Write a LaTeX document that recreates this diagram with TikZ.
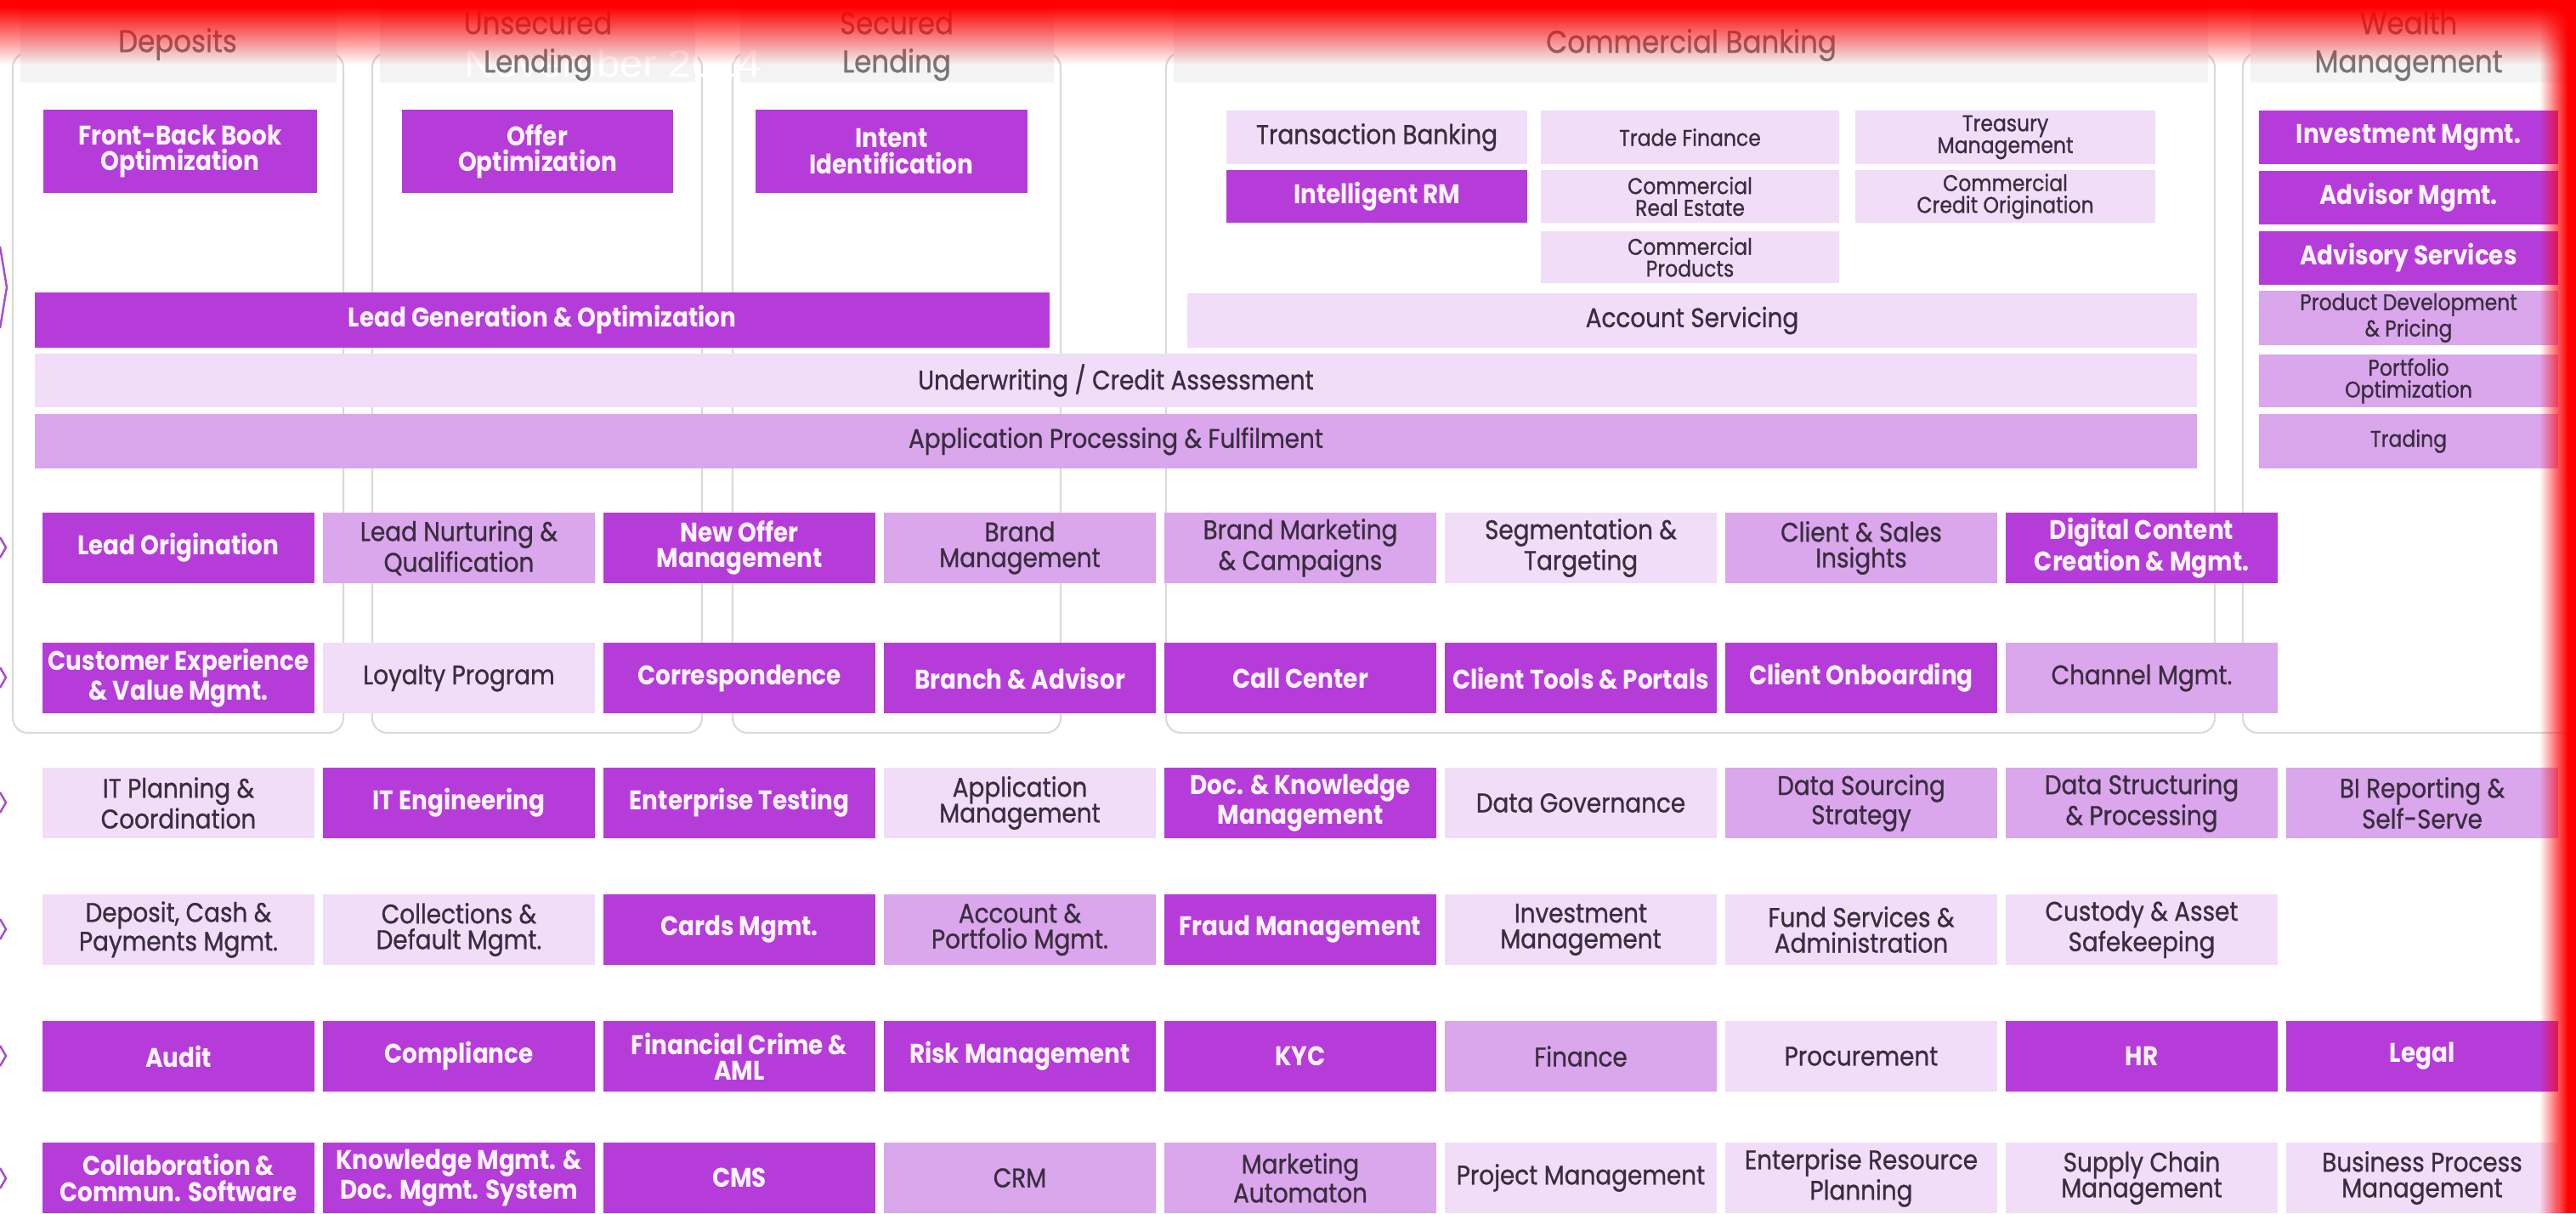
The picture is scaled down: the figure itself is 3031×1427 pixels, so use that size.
\documentclass[tikz,border=0pt]{standalone}
\usepackage{fontspec}
\setmainfont{Poppins}[FakeStretch=0.88]
\newfontfamily\medfont{Poppins}[FakeStretch=0.88, FakeBold=0.8]
\newfontfamily\wmfont{Liberation Sans}[FakeStretch=1.1]
\usetikzlibrary{fadings}

\definecolor{pD}{HTML}{B63CDA}
\definecolor{pM}{HTML}{DAA6EC}
\definecolor{pL}{HTML}{F1DDF7}
\definecolor{dtxt}{HTML}{3A2D3F}
\definecolor{wtxt}{HTML}{FFF4FF}
\definecolor{hdrtxt}{HTML}{777777}
\definecolor{panelln}{HTML}{DADADA}
\definecolor{bandgray}{HTML}{EDEDED}
\definecolor{chev}{HTML}{A64BD0}

\tikzfading[name=fadedown, top color=transparent!0, bottom color=transparent!100]
\tikzfading[name=faderight, left color=transparent!100, right color=transparent!0]

\tikzset{
  cellbase/.style={rectangle, inner sep=0pt, outer sep=0pt, align=center},
  cD/.style={cellbase, fill=pD, text=wtxt, font=\bfseries\fontsize{9}{8.6}\selectfont},
  cM/.style={cellbase, fill=pM, text=dtxt, font=\medfont\fontsize{9}{8.6}\selectfont},
  cL/.style={cellbase, fill=pL, text=dtxt, font=\medfont\fontsize{9}{8.6}\selectfont},
  smalltext/.style={font=\medfont\fontsize{7.6}{7.3}\selectfont},
  hdr/.style={inner sep=0pt, align=center, text=hdrtxt, font=\medfont\fontsize{10.5}{12.8}\selectfont},
  panel/.style={draw=panelln, line width=0.6pt, rounded corners=5, fill=white},
  band/.style={top color=bandgray, bottom color=bandgray!60},
  chevline/.style={draw=chev, line width=0.7pt, line join=miter},
}

% box from two corners (pixel grid, y downwards)
\newcommand\bx[7]{\node[#2, minimum width={(#5-(#3))*0.01cm}, minimum height={(#6-(#4))*0.01cm}] (#1) at ({(#3+#5)/2},{(#4+#6)/2}) {#7};}
% box in the nine-column grid: column, top edge
\newcommand\gc[5]{\node[#2, minimum width=3.2cm, minimum height=0.83cm] (#1) at ({50+330*(#3-1)+160},{#4+41.5}) {#5};}

\begin{document}
\begin{tikzpicture}[x=0.01cm, y=-0.01cm]
\useasboundingbox (0,0) rectangle (3031,1427);
\clip (0,0) rectangle (3031,1427);
\fill[white] (0,0) rectangle (3031,1427);

% business-line panels
\draw[panel] (15,62) rectangle (404,862);
\draw[panel] (438,62) rectangle (826,862);
\draw[panel] (862,62) rectangle (1248,862);
\draw[panel] (1372,62) rectangle (2606,862);
\draw[panel] (2639,62) rectangle (3060,862);

% header bands
\shade[band] (24,0) rectangle (396,96);
\shade[band] (447,0) rectangle (818,96);
\shade[band] (871,0) rectangle (1240,96);
\shade[band] (1381,0) rectangle (2598,96);
\shade[band] (2648,0) rectangle (3031,96);

\node[anchor=base west, text=white, font=\wmfont\fontsize{12.7}{14}\selectfont, inner sep=0pt] (wm) at (546,90) {November 2024};

% column headers
\node[hdr] (hdep) at (209,52) {Deposits};
\node[hdr] (hunsec) at (633,54) {Unsecured\\Lending};
\node[hdr] (hsec) at (1055,54) {Secured\\Lending};
\node[hdr] (hcom) at (1990,53) {Commercial Banking};
\node[hdr] (hwlth) at (2834,54) {Wealth\\Management};

% retail lines
\bx{fbb}{cD}{51}{129}{373}{227}{Front-Back Book\\Optimization}
\bx{offer}{cD}{473}{129}{792}{227}{Offer\\Optimization}
\bx{intent}{cD}{889}{129}{1209}{227}{Intent\\Identification}
\bx{leadgen}{cD}{41}{344}{1235}{409}{Lead Generation \& Optimization}
\bx{uw}{cL}{41}{416}{2585}{479}{Underwriting / Credit Assessment}
\bx{app}{cM}{41}{487}{2585}{551}{Application Processing \& Fulfilment}

% commercial banking
\bx{txn}{cL}{1443}{130}{1797}{193}{Transaction Banking}
\bx{irm}{cD}{1443}{200}{1797}{262}{Intelligent RM}
\bx{trade}{cL,smalltext}{1813}{130}{2164}{193}{Trade Finance}
\bx{cre}{cL,smalltext}{1813}{200}{2164}{262}{Commercial\\Real Estate}
\bx{cprod}{cL,smalltext}{1813}{272}{2164}{333}{Commercial\\Products}
\bx{treas}{cL,smalltext}{2183}{130}{2536}{193}{Treasury\\Management}
\bx{cco}{cL,smalltext}{2183}{200}{2536}{262}{Commercial\\Credit Origination}
\bx{acct}{cL}{1397}{345}{2585}{409}{Account Servicing}

% wealth management
\bx{invm}{cD}{2658}{130}{3010}{193}{Investment Mgmt.}
\bx{advm}{cD}{2658}{201}{3010}{264}{Advisor Mgmt.}
\bx{advs}{cD}{2658}{272}{3010}{335}{Advisory Services}
\bx{pdev}{cM,smalltext}{2658}{342}{3010}{406}{Product Development\\\& Pricing}
\bx{port}{cM,smalltext}{2658}{417}{3010}{479}{Portfolio\\Optimization}
\bx{trad}{cM,smalltext}{2658}{487}{3010}{551}{Trading}

% customer engagement
\gc{a1}{cD}{1}{603}{Lead Origination}
\gc{a2}{cM}{2}{603}{Lead Nurturing \&\\Qualification}
\gc{a3}{cD}{3}{603}{New Offer\\Management}
\gc{a4}{cM}{4}{603}{Brand\\Management}
\gc{a5}{cM}{5}{603}{Brand Marketing\\\& Campaigns}
\gc{a6}{cL}{6}{603}{Segmentation \&\\Targeting}
\gc{a7}{cM}{7}{603}{Client \& Sales\\Insights}
\gc{a8}{cD}{8}{603}{Digital Content\\Creation \& Mgmt.}

\gc{b1}{cD}{1}{756}{Customer Experience\\\& Value Mgmt.}
\gc{b2}{cL}{2}{756}{Loyalty Program}
\gc{b3}{cD}{3}{756}{Correspondence}
\gc{b4}{cD}{4}{756}{Branch \& Advisor}
\gc{b5}{cD}{5}{756}{Call Center}
\gc{b6}{cD}{6}{756}{Client Tools \& Portals}
\gc{b7}{cD}{7}{756}{Client Onboarding}
\gc{b8}{cM}{8}{756}{Channel Mgmt.}

% technology and data
\gc{c1}{cL}{1}{903}{IT Planning \&\\Coordination}
\gc{c2}{cD}{2}{903}{IT Engineering}
\gc{c3}{cD}{3}{903}{Enterprise Testing}
\gc{c4}{cL}{4}{903}{Application\\Management}
\gc{c5}{cD}{5}{903}{Doc. \& Knowledge\\Management}
\gc{c6}{cL}{6}{903}{Data Governance}
\gc{c7}{cM}{7}{903}{Data Sourcing\\Strategy}
\gc{c8}{cM}{8}{903}{Data Structuring\\\& Processing}
\gc{c9}{cM}{9}{903}{BI Reporting \&\\Self-Serve}

% operations
\gc{d1}{cL}{1}{1052}{Deposit, Cash \&\\Payments Mgmt.}
\gc{d2}{cL}{2}{1052}{Collections \&\\Default Mgmt.}
\gc{d3}{cD}{3}{1052}{Cards Mgmt.}
\gc{d4}{cM}{4}{1052}{Account \&\\Portfolio Mgmt.}
\gc{d5}{cD}{5}{1052}{Fraud Management}
\gc{d6}{cL}{6}{1052}{Investment\\Management}
\gc{d7}{cL}{7}{1052}{Fund Services \&\\Administration}
\gc{d8}{cL}{8}{1052}{Custody \& Asset\\Safekeeping}

% corporate functions
\gc{e1}{cD}{1}{1201}{Audit}
\gc{e2}{cD}{2}{1201}{Compliance}
\gc{e3}{cD}{3}{1201}{Financial Crime \&\\AML}
\gc{e4}{cD}{4}{1201}{Risk Management}
\gc{e5}{cD}{5}{1201}{KYC}
\gc{e6}{cM}{6}{1201}{Finance}
\gc{e7}{cL}{7}{1201}{Procurement}
\gc{e8}{cD}{8}{1201}{HR}
\gc{e9}{cD}{9}{1201}{Legal}

% enterprise systems
\gc{f1}{cD}{1}{1344}{Collaboration \&\\Commun. Software}
\gc{f2}{cD}{2}{1344}{Knowledge Mgmt. \&\\Doc. Mgmt. System}
\gc{f3}{cD}{3}{1344}{CMS}
\gc{f4}{cM}{4}{1344}{CRM}
\gc{f5}{cM}{5}{1344}{Marketing\\Automaton}
\gc{f6}{cL}{6}{1344}{Project Management}
\gc{f7}{cL}{7}{1344}{Enterprise Resource\\Planning}
\gc{f8}{cL}{8}{1344}{Supply Chain\\Management}
\gc{f9}{cL}{9}{1344}{Business Process\\Management}

% row markers on the left edge
\draw[chevline] (0,290) -- (8,338) -- (0,386);
\foreach \yc in {644,797,944,1093,1242,1386}
  \draw[chevline] (0,\yc-12) -- (7,\yc) -- (0,\yc+12);

% red edges
\fill[red] (0,0) rectangle (3031,8);
\fill[red, path fading=fadedown] (0,8) rectangle (3031,76);
\fill[red] (3021,0) rectangle (3031,1427);
\fill[red, path fading=faderight] (2988,0) rectangle (3021,1427);
\end{tikzpicture}
\end{document}
